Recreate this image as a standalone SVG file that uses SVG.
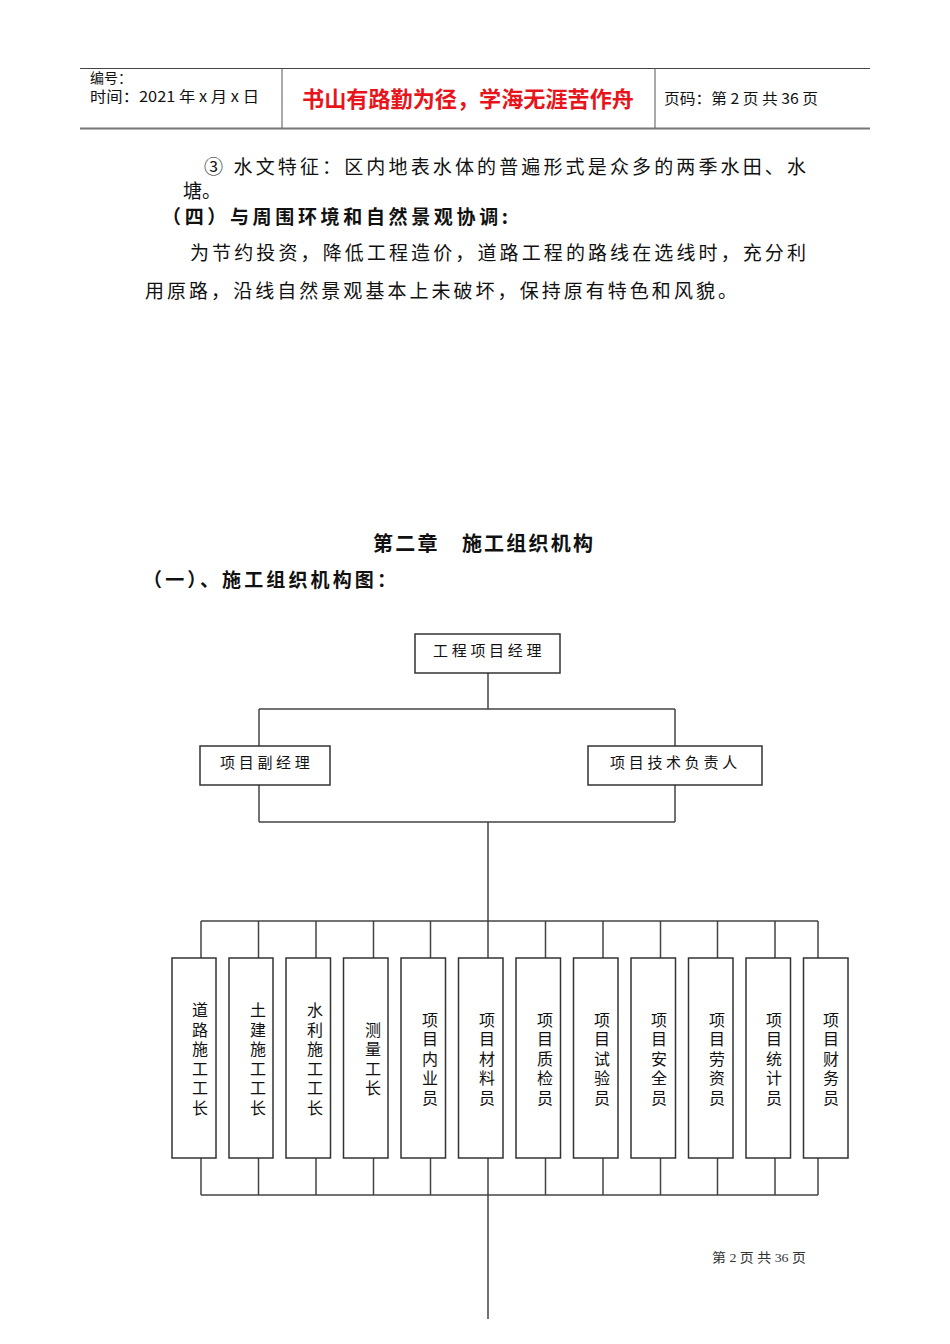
<svg xmlns="http://www.w3.org/2000/svg" width="950" height="1344" viewBox="0 0 950 1344">
<style>
.t{font-family:"Noto Sans CJK SC","Liberation Sans",sans-serif;fill:#111}
.b{font-weight:bold}
.box{fill:#fff;stroke:#333;stroke-width:1.5}
.ln{fill:none;stroke:#444;stroke-width:1.5}
.lbl{font-family:"Noto Sans CJK SC",sans-serif;font-size:15px;fill:#111;letter-spacing:3.7px}
.v{font-family:"Noto Sans CJK SC",sans-serif;font-size:16px;fill:#111;text-anchor:middle}
</style>
<rect width="950" height="1344" fill="#fff"/>
<g id="header">
<line x1="80" y1="68.5" x2="870" y2="68.5" stroke="#444" stroke-width="1"/>
<line x1="80" y1="128.5" x2="870" y2="128.5" stroke="#777" stroke-width="2"/>
<line x1="282" y1="68" x2="282" y2="128" stroke="#555" stroke-width="1"/>
<line x1="655" y1="68" x2="655" y2="128" stroke="#555" stroke-width="1"/>
<text class="t" x="90" y="83" font-size="14">编号：</text>
<text class="t" x="90" y="102" font-size="15" textLength="169" lengthAdjust="spacingAndGlyphs">时间：2021 年 x 月 x 日</text>
<text class="t b" x="302" y="107" font-size="22" style="fill:#e8141b" textLength="332" lengthAdjust="spacingAndGlyphs">书山有路勤为径，学海无涯苦作舟</text>
<text class="t" x="664" y="104" font-size="15" textLength="154" lengthAdjust="spacingAndGlyphs">页码：第 2 页 共 36 页</text>
</g>
<g id="body-text">
<text class="t" x="204" y="174" font-size="19" textLength="602" lengthAdjust="spacing">③ 水文特征：区内地表水体的普遍形式是众多的两季水田、水</text>
<text class="t" x="183" y="198" font-size="19">塘。</text>
<text class="t b" x="162" y="224" font-size="19" textLength="346" lengthAdjust="spacing">（四）与周围环境和自然景观协调:</text>
<text class="t" x="190" y="260" font-size="19" textLength="616" lengthAdjust="spacing">为节约投资，降低工程造价，道路工程的路线在选线时，充分利</text>
<text class="t" x="145" y="298" font-size="19" textLength="592" lengthAdjust="spacing">用原路，沿线自然景观基本上未破坏，保持原有特色和风貌。</text>
<text class="t b" x="373" y="551" font-size="20" textLength="220" lengthAdjust="spacing">第二章　施工组织机构</text>
<text class="t b" x="143" y="587" font-size="19" textLength="253" lengthAdjust="spacing">（一）、施工组织机构图：</text>
</g>
<g id="connectors" class="ln">
<path d="M488 673V709M259 709H675M259 709V746M675 709V746"/>
<path d="M259 785V822M675 785V822M259 822H675M488 822V958M488 1158V1319"/>
<path d="M201 921H818M201 921V958M258.5 921V958M316 921V958M373.5 921V958M430.5 921V958M545.5 921V958M603 921V958M660.5 921V958M717.5 921V958M775 921V958M818 921V958"/>
<path d="M201 1195H818M201 1158V1195M258.5 1158V1195M316 1158V1195M373.5 1158V1195M430.5 1158V1195M545.5 1158V1195M603 1158V1195M660.5 1158V1195M717.5 1158V1195M775 1158V1195M818 1158V1195"/>
</g>
<g id="n-manager"><rect class="box" x="415" y="634" width="145" height="39"/><text class="lbl" x="433" y="656">工程项目经理</text></g>
<g id="n-deputy"><rect class="box" x="200" y="746" width="130" height="39"/><text class="lbl" x="220" y="768">项目副经理</text></g>
<g id="n-tech"><rect class="box" x="588" y="746" width="174" height="39"/><text class="lbl" x="610" y="768">项目技术负责人</text></g>
<g id="n1"><rect class="box" x="172" y="958" width="44" height="200"/><text class="v" x="200" y="1016"><tspan x="200">道</tspan><tspan x="200" dy="19.5">路</tspan><tspan x="200" dy="19.5">施</tspan><tspan x="200" dy="19.5">工</tspan><tspan x="200" dy="19.5">工</tspan><tspan x="200" dy="19.5">长</tspan></text></g>
<g id="n2"><rect class="box" x="229" y="958" width="44" height="200"/><text class="v" x="258" y="1016"><tspan x="258">土</tspan><tspan x="258" dy="19.5">建</tspan><tspan x="258" dy="19.5">施</tspan><tspan x="258" dy="19.5">工</tspan><tspan x="258" dy="19.5">工</tspan><tspan x="258" dy="19.5">长</tspan></text></g>
<g id="n3"><rect class="box" x="286" y="958" width="44.5" height="200"/><text class="v" x="315" y="1016"><tspan x="315">水</tspan><tspan x="315" dy="19.5">利</tspan><tspan x="315" dy="19.5">施</tspan><tspan x="315" dy="19.5">工</tspan><tspan x="315" dy="19.5">工</tspan><tspan x="315" dy="19.5">长</tspan></text></g>
<g id="n4"><rect class="box" x="343.5" y="958" width="44.5" height="200"/><text class="v" x="373" y="1035.5"><tspan x="373">测</tspan><tspan x="373" dy="19.5">量</tspan><tspan x="373" dy="19.5">工</tspan><tspan x="373" dy="19.5">长</tspan></text></g>
<g id="n5"><rect class="box" x="401" y="958" width="44.5" height="200"/><text class="v" x="430" y="1025.5"><tspan x="430">项</tspan><tspan x="430" dy="19.5">目</tspan><tspan x="430" dy="19.5">内</tspan><tspan x="430" dy="19.5">业</tspan><tspan x="430" dy="19.5">员</tspan></text></g>
<g id="n6"><rect class="box" x="458.5" y="958" width="44.5" height="200"/><text class="v" x="487" y="1025.5"><tspan x="487">项</tspan><tspan x="487" dy="19.5">目</tspan><tspan x="487" dy="19.5">材</tspan><tspan x="487" dy="19.5">料</tspan><tspan x="487" dy="19.5">员</tspan></text></g>
<g id="n7"><rect class="box" x="516" y="958" width="44.5" height="200"/><text class="v" x="545" y="1025.5"><tspan x="545">项</tspan><tspan x="545" dy="19.5">目</tspan><tspan x="545" dy="19.5">质</tspan><tspan x="545" dy="19.5">检</tspan><tspan x="545" dy="19.5">员</tspan></text></g>
<g id="n8"><rect class="box" x="573.5" y="958" width="44.5" height="200"/><text class="v" x="602" y="1025.5"><tspan x="602">项</tspan><tspan x="602" dy="19.5">目</tspan><tspan x="602" dy="19.5">试</tspan><tspan x="602" dy="19.5">验</tspan><tspan x="602" dy="19.5">员</tspan></text></g>
<g id="n9"><rect class="box" x="631" y="958" width="44.5" height="200"/><text class="v" x="659" y="1025.5"><tspan x="659">项</tspan><tspan x="659" dy="19.5">目</tspan><tspan x="659" dy="19.5">安</tspan><tspan x="659" dy="19.5">全</tspan><tspan x="659" dy="19.5">员</tspan></text></g>
<g id="n10"><rect class="box" x="688.5" y="958" width="44.5" height="200"/><text class="v" x="717" y="1025.5"><tspan x="717">项</tspan><tspan x="717" dy="19.5">目</tspan><tspan x="717" dy="19.5">劳</tspan><tspan x="717" dy="19.5">资</tspan><tspan x="717" dy="19.5">员</tspan></text></g>
<g id="n11"><rect class="box" x="746" y="958" width="44.5" height="200"/><text class="v" x="774" y="1025.5"><tspan x="774">项</tspan><tspan x="774" dy="19.5">目</tspan><tspan x="774" dy="19.5">统</tspan><tspan x="774" dy="19.5">计</tspan><tspan x="774" dy="19.5">员</tspan></text></g>
<g id="n12"><rect class="box" x="803.5" y="958" width="44.5" height="200"/><text class="v" x="831" y="1025.5"><tspan x="831">项</tspan><tspan x="831" dy="19.5">目</tspan><tspan x="831" dy="19.5">财</tspan><tspan x="831" dy="19.5">务</tspan><tspan x="831" dy="19.5">员</tspan></text></g>
<g id="footer">
<text x="712" y="1262" font-family="Liberation Serif,'Noto Sans CJK SC',serif" font-size="13" fill="#333" textLength="94" lengthAdjust="spacingAndGlyphs">第 2 页 共 36 页</text>
</g>
</svg>
